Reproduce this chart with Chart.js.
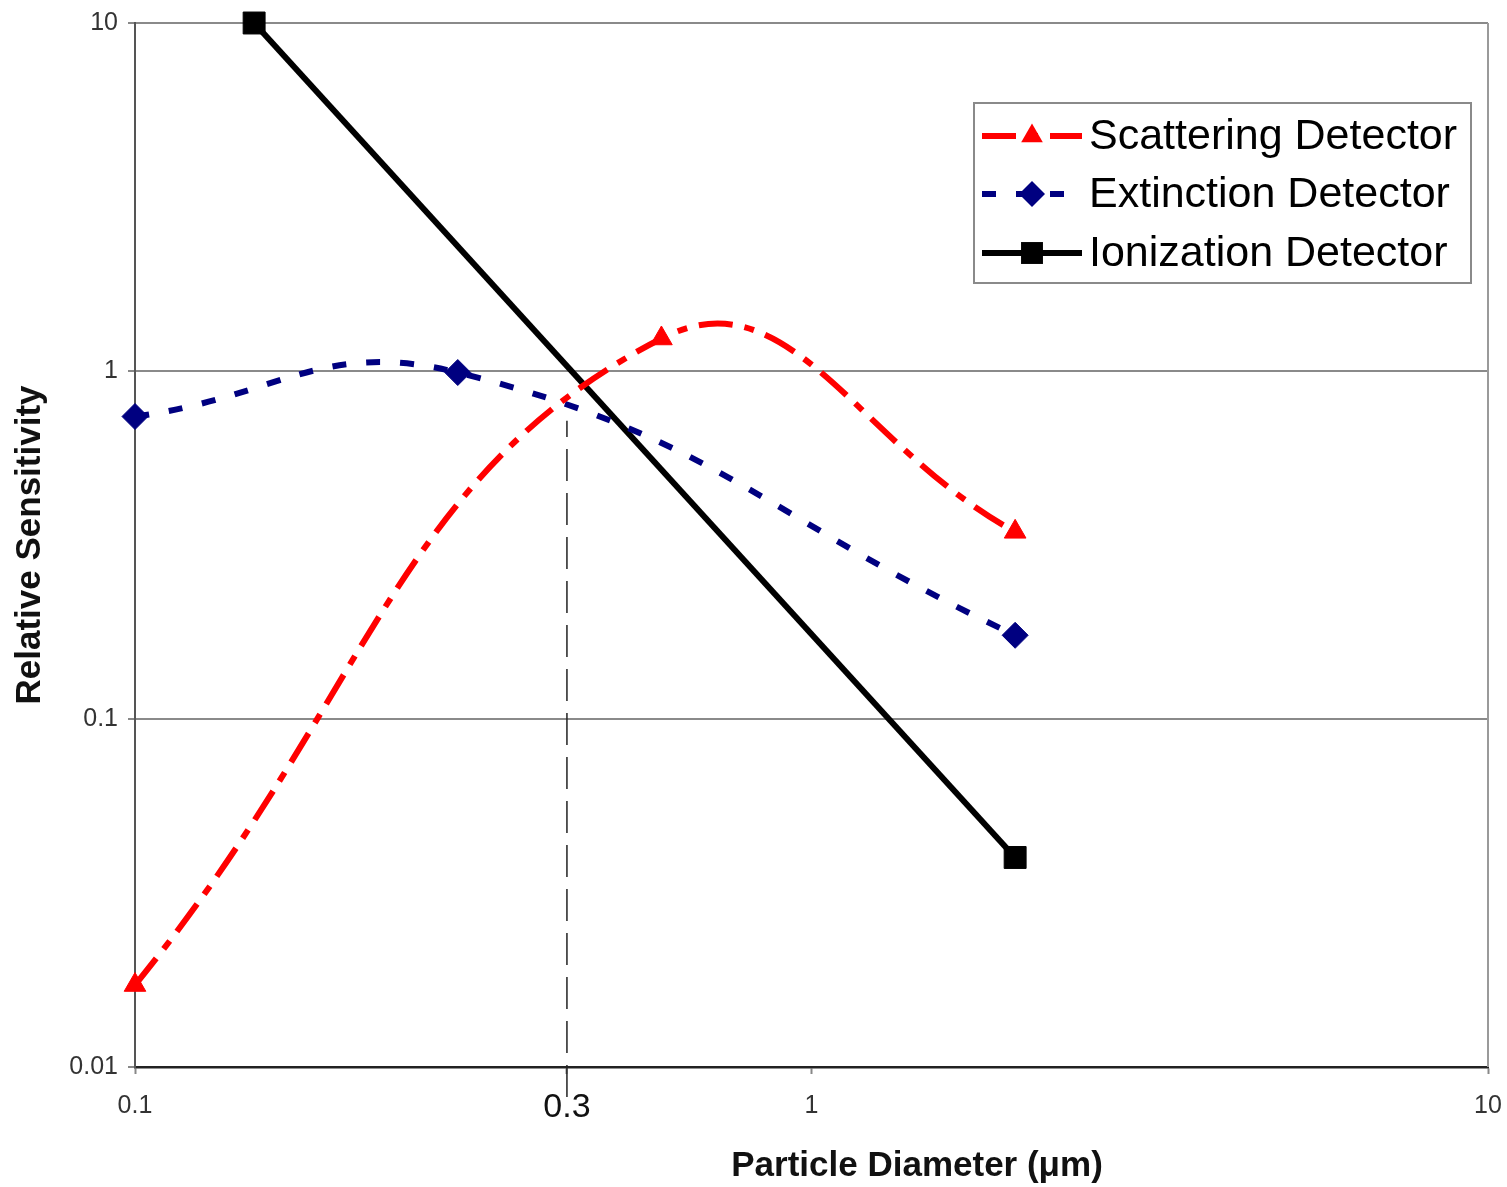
<!DOCTYPE html>
<html>
<head>
<meta charset="utf-8">
<title>Relative Sensitivity vs Particle Diameter</title>
<script src="https://cdn.jsdelivr.net/npm/chart.js@4.4.1/dist/chart.umd.min.js"></script>
<style>
  html, body { margin: 0; padding: 0; background: #fff; }
  canvas { display: block; }
</style>
</head>
<body>
<canvas id="sensitivityChart" width="1507" height="1187"></canvas>
<script>
// Detector response vs particle size (log-log)
const scatterX = [0.1, 0.6, 2.0];
const scatterY = [0.0172, 1.24, 0.345];

const extinctionX = [0.1, 0.3, 2.0];
const extinctionY = [0.74, 0.99, 0.174];

const ionizationX = [0.15, 2.0];
const ionizationY = [10, 0.04];

// vertical marker for the 0.3 um point, runs a little below the axis
const cutX = 0.435;
const cutY = [0.0082, 0.72];

const xTicks = [0.1, cutX, 1, 10];
const xTickLabels = ['0.1', '0.3', '1', '10'];
const yTicks = [0.01, 0.1, 1, 10];
const yTickLabels = ['0.01', '0.1', '1', '10'];

const seriesNames = ['Scattering Detector', 'Extinction Detector', 'Ionization Detector'];
const xTitle = 'Particle Diameter (\u03bcm)';
const yTitle = 'Relative Sensitivity';

const FONT = "'Liberation Sans', Arial, Helvetica, sans-serif";
Chart.defaults.font.family = FONT;
Chart.defaults.color = '#222';

function toPoints(xs, ys) {
    return xs.map((x, i) => ({ x: x, y: ys[i] }));
}

// Simple marker shapes, same as the ones Chart.js draws on the lines
function drawMarker(ctx, style, x, y, r, color) {
    ctx.save();
    ctx.fillStyle = color;
    ctx.beginPath();
    if (style === 'triangle') {
        ctx.moveTo(x, y - r);
        ctx.lineTo(x + r * 0.866, y + r / 2);
        ctx.lineTo(x - r * 0.866, y + r / 2);
    } else if (style === 'rectRot') {
        ctx.moveTo(x - r, y);
        ctx.lineTo(x, y - r);
        ctx.lineTo(x + r, y);
        ctx.lineTo(x, y + r);
    } else {
        const s = r * Math.SQRT1_2;
        ctx.rect(x - s, y - s, 2 * s, 2 * s);
    }
    ctx.closePath();
    ctx.fill();
    ctx.restore();
}

// Boxed legend with line sample + marker, top right of the plot
const boxLegend = {
    id: 'boxLegend',
    afterDatasetsDraw(chart) {
        const { ctx, chartArea } = chart;
        const left = chartArea.right - 514;
        const top = chartArea.top + 80;
        const w = 497, h = 180;
        ctx.save();
        ctx.fillStyle = '#fff';
        ctx.fillRect(left, top, w, h);
        ctx.strokeStyle = '#8a8a8a';
        ctx.lineWidth = 2;
        ctx.strokeRect(left, top, w, h);

        const rows = [33, 91, 150];
        chart.data.datasets.slice(0, 3).forEach((ds, i) => {
            const y = top + rows[i];
            ctx.save();
            ctx.strokeStyle = ds.borderColor;
            ctx.lineWidth = ds.borderWidth;
            ctx.setLineDash(ds.borderDash || []);
            ctx.beginPath();
            ctx.moveTo(left + 8, y);
            ctx.lineTo(left + 108, y);
            ctx.stroke();
            ctx.restore();
            drawMarker(ctx, ds.pointStyle, left + 58, y, ds.pointRadius, ds.pointBackgroundColor);

            ctx.fillStyle = '#000';
            ctx.font = '43px ' + FONT;
            ctx.textBaseline = 'middle';
            ctx.textAlign = 'left';
            ctx.fillText(seriesNames[i], left + 115, y + 1);
        });
        ctx.restore();
    }
};

// Right edge of the plot frame and the x axis title
const frameAndTitle = {
    id: 'frameAndTitle',
    beforeDatasetsDraw(chart) {
        const { ctx, chartArea } = chart;
        ctx.save();
        ctx.strokeStyle = '#9a9a9a';
        ctx.lineWidth = 2;
        ctx.beginPath();
        ctx.moveTo(chartArea.right, chartArea.top);
        ctx.lineTo(chartArea.right, chartArea.bottom);
        ctx.stroke();
        ctx.restore();
    },
    afterDraw(chart) {
        const { ctx, chartArea } = chart;
        ctx.save();
        ctx.fillStyle = '#111';
        ctx.font = 'bold 35px ' + FONT;
        ctx.textAlign = 'center';
        ctx.textBaseline = 'middle';
        ctx.fillText(xTitle, chartArea.left + chartArea.width * 0.578, chart.height - 21);
        ctx.restore();
    }
};

const ctx = document.getElementById('sensitivityChart').getContext('2d');
const chart = new Chart(ctx, {
    type: 'line',
    data: {
        datasets: [{
            label: seriesNames[0],
            data: toPoints(scatterX, scatterY),
            borderColor: '#ff0000',
            borderWidth: 6,
            borderDash: [34, 12, 10, 12],
            pointStyle: 'triangle',
            pointRadius: 12.5,
            pointBackgroundColor: '#ff0000',
            pointBorderColor: '#ff0000',
            pointBorderWidth: 1,
            tension: 0.45,
            fill: false,
            clip: false
        }, {
            label: seriesNames[1],
            data: toPoints(extinctionX, extinctionY),
            borderColor: '#000080',
            borderWidth: 6,
            borderDash: [14, 20],
            pointStyle: 'rectRot',
            pointRadius: 13,
            pointBackgroundColor: '#000080',
            pointBorderColor: '#000080',
            pointBorderWidth: 1,
            tension: 0.45,
            fill: false,
            clip: false
        }, {
            label: seriesNames[2],
            data: toPoints(ionizationX, ionizationY),
            borderColor: '#000000',
            borderWidth: 6,
            pointStyle: 'rect',
            pointRadius: 15.5,
            pointBackgroundColor: '#000000',
            pointBorderColor: '#000000',
            pointBorderWidth: 1,
            tension: 0,
            fill: false,
            clip: false
        }, {
            label: 'cut',
            data: toPoints([cutX, cutX], cutY),
            borderColor: '#222',
            borderWidth: 1.5,
            borderDash: [32, 12],
            pointRadius: 0,
            tension: 0,
            fill: false,
            clip: false
        }]
    },
    options: {
        responsive: false,
        animation: false,
        layout: {
            padding: { top: 23, right: 19, bottom: 0, left: 0 }
        },
        plugins: {
            legend: { display: false },
            tooltip: { enabled: false }
        },
        scales: {
            x: {
                type: 'logarithmic',
                min: 0.1,
                max: 10,
                afterBuildTicks(scale) {
                    scale.ticks = xTicks.map(v => ({ value: v }));
                },
                afterFit(scale) {
                    scale.height = 120;
                    scale.paddingLeft = 0;
                    scale.paddingRight = 0;
                },
                ticks: {
                    autoSkip: false,
                    maxRotation: 0,
                    padding: 17,
                    color: (c) => (c.tick && c.tick.value === cutX) ? '#111' : '#333',
                    font: (c) => (c.tick && c.tick.value === cutX)
                        ? { size: 34, lineHeight: 1.0 }
                        : { size: 25, lineHeight: 1.2 },
                    callback: (value, index) => xTickLabels[index]
                },
                grid: {
                    drawOnChartArea: false,
                    drawTicks: true,
                    tickLength: 7,
                    tickColor: '#888',
                    tickWidth: 2
                },
                border: { color: '#222', width: 2.5 }
            },
            y: {
                type: 'logarithmic',
                min: 0.01,
                max: 10,
                afterBuildTicks(scale) {
                    scale.ticks = yTicks.map(v => ({ value: v }));
                },
                afterFit(scale) {
                    scale.width = 135;
                    scale.paddingTop = 0;
                    scale.paddingBottom = 0;
                },
                ticks: {
                    autoSkip: false,
                    padding: 10,
                    color: '#333',
                    font: { size: 25 },
                    callback: (value, index) => yTickLabels[index]
                },
                grid: {
                    color: '#8a8a8a',
                    lineWidth: 2,
                    tickLength: 7,
                    tickColor: '#888'
                },
                border: { color: '#555', width: 2 },
                title: {
                    display: true,
                    text: yTitle,
                    color: '#111',
                    font: { size: 35, weight: 'bold' },
                    padding: { top: 9, bottom: 0 }
                }
            }
        }
    },
    plugins: [frameAndTitle, boxLegend]
});
</script>
</body>
</html>
